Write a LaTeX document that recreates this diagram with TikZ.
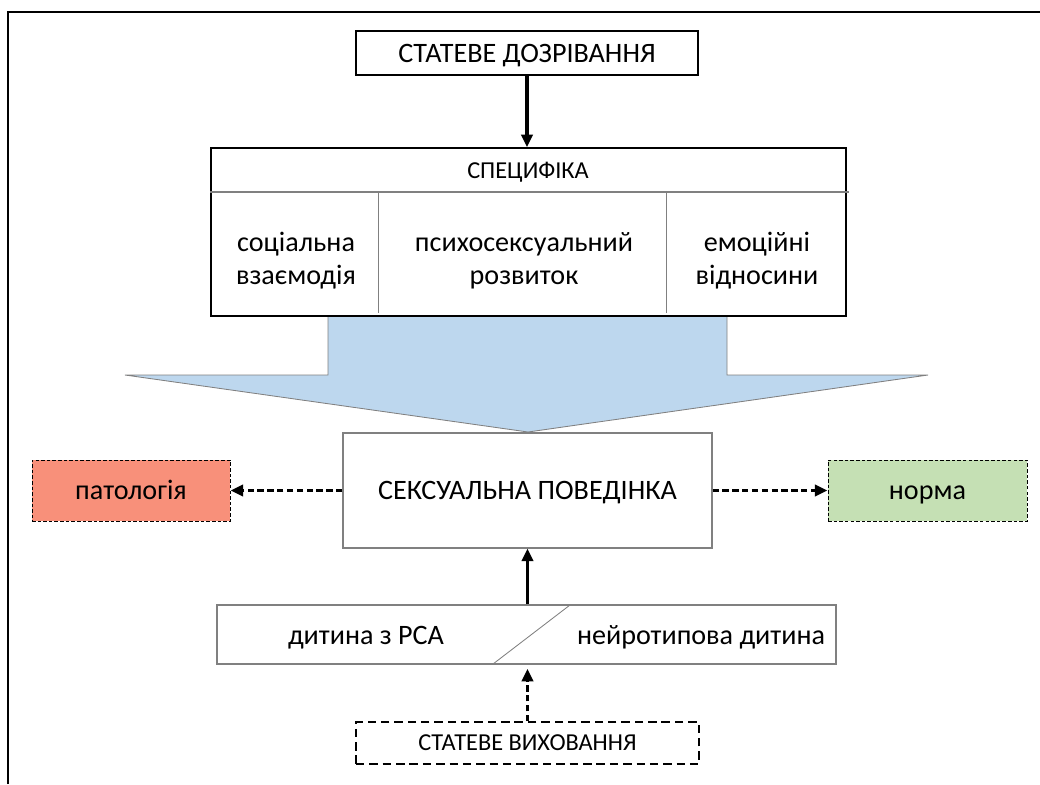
\documentclass[tikz,border=0pt]{standalone}
\usepackage{fontspec}
\setmainfont{Carlito}
\usetikzlibrary{arrows.meta,positioning}
\newcommand{\px}{0.025cm}
\newcommand{\bigfont}{\fontsize{20}{23.5}\selectfont}
\newcommand{\smallfont}{\fontsize{17.3}{20}\selectfont}
\definecolor{arrowblue}{HTML}{BDD7EE}
\definecolor{patored}{HTML}{F8907A}
\definecolor{normgreen}{HTML}{C5E0B4}
\definecolor{edgegray}{HTML}{808080}

\begin{document}
\begin{tikzpicture}[x=0.025cm,y=-0.025cm]
	
	\tikzset{solidbox/.style = {draw=black, line width=1pt, fill=white, inner sep=0pt, align=center}}
	\tikzset{graybox/.style = {draw=edgegray, line width=0.8pt, fill=white, inner sep=0pt, align=center}}
	\tikzset{outbox/.style = {draw=black, line width=0.7pt, dash pattern=on 2.5pt off 1.5pt, inner sep=0pt}}
	\tikzset{educbox/.style = {draw=black, line width=1.3pt, dash pattern=on 6pt off 3.5pt, inner sep=0pt}}
	\tikzset{onebig/.style = {font=\bigfont, text height=12.9pt, text depth=0pt}}
	\tikzset{onesmall/.style = {font=\smallfont, text height=11.1pt, text depth=0pt}}
	\tikzset{thickarrow/.style = {line width=2.2pt, -{Triangle[length=9pt,width=8pt]}}}
	\tikzset{dasharrow/.style = {thickarrow, dash pattern=on 4.5pt off 2.5pt}}
	\useasboundingbox (0,0) rectangle (1040,784);
	%\draw[help lines,step=100] (0,0) grid (1040,784);
	\draw[line width=1.6pt] (8,784) -- (8,12) -- (1040,12);
	
	% big arrow
	\draw[draw=edgegray, fill=arrowblue, line width=0.6pt] (328,316) -- (328,375) -- (125,375)
		-- (528,432) -- (928,375) -- (727,375) -- (727,316);
	
	\node[solidbox, onebig, minimum width=342*\px, minimum height=44*\px] (matur) at (527,53) {СТАТЕВЕ ДОЗРІВАННЯ};
	\node[solidbox, minimum width=635*\px, minimum height=168*\px] (spec) at (528.5,232) {};
	\draw[edgegray, line width=0.8pt] (spec.west |- 0,192) -- (849,192);
	\draw[edgegray, line width=0.5pt] (378,192) -- (378,313);
	\draw[edgegray, line width=0.5pt] (666,192) -- (666,313);
	\node[onesmall] (specHead) at (528,171) {СПЕЦИФІКА};
	\node[font=\bigfont, align=center] (social) at (296,261) {соціальна\\взаємодія};
	\node[font=\bigfont, align=center] (psycho) at (524,261) {психосексуальний\\розвиток};
	\node[font=\bigfont, align=center] (emot) at (757,261) {емоційні\\відносини};
	
	\node[graybox, onebig, minimum width=369*\px, minimum height=115*\px] (behav) at (527.5,490.5) {СЕКСУАЛЬНА ПОВЕДІНКА};
	\node[outbox, onebig, fill=patored, minimum width=198*\px, minimum height=61*\px] (patol) at (131,490.5) {патологія};
	\node[outbox, onebig, fill=normgreen, minimum width=199*\px, minimum height=61*\px] (norm) at (927.5,490.5) {норма};
	
	\node[graybox, minimum width=619*\px, minimum height=59*\px] (child) at (526.5,634.5) {};
	\coordinate (slashA) at (493,664);
	\coordinate (slashB) at (570,605);
	\draw[edgegray, line width=0.6pt] (slashA) -- (slashB);
	\node[onebig] (asd) at (366,635) {дитина з РСА};
	\node[onebig] (neuro) at (701,635) {нейротипова дитина};
	
	\node[educbox, onesmall, minimum width=343*\px, minimum height=42*\px] (educ) at (527.5,743) {СТАТЕВЕ ВИХОВАННЯ};
	
	\draw[thickarrow] (matur.south) -- (matur.south |- spec.north);
	\draw[dasharrow] (behav.west) -- (patol.east);
	\draw[dasharrow] (behav.east) -- (norm.east -| norm.west);
	\draw[thickarrow] (child.north -| behav.south) -- (behav.south);
	\draw[dasharrow, shorten >=3pt] (educ.north) -- (child.south -| educ.north);
	
\end{tikzpicture}
\end{document}
